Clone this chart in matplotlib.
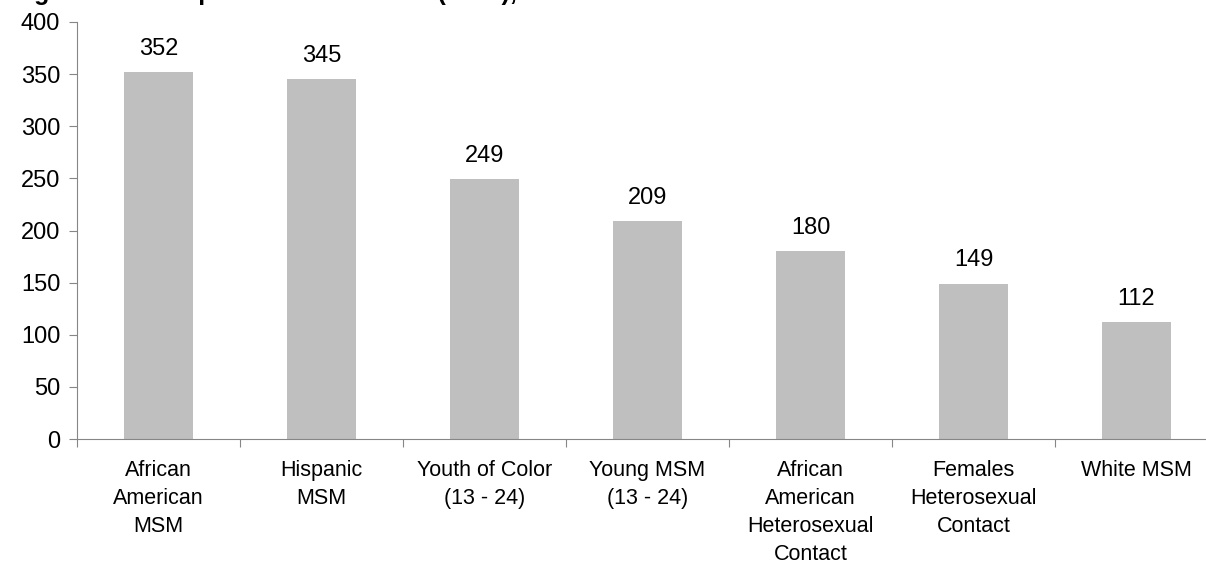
import matplotlib.pyplot as plt
import numpy as np

plt.rcParams['font.family'] = ['Liberation Sans', 'DejaVu Sans']

categories = ['African\nAmerican\nMSM', 'Hispanic\nMSM', 'Youth of Color\n(13 - 24)',
              'Young MSM\n(13 - 24)', 'African\nAmerican\nHeterosexual\nContact',
              'Females\nHeterosexual\nContact', 'White MSM']
values = [352, 345, 249, 209, 180, 149, 112]
yticks = [0, 50, 100, 150, 200, 250, 300, 350, 400]

fig = plt.figure(figsize=(12.06, 5.65), dpi=100)
ax = fig.add_axes([77 / 1206, 126 / 565, 1141 / 1206, 417 / 565])

x = np.arange(len(categories))
ax.bar(x, values, width=0.42, color='#BFBFBF', zorder=2)
for xi, v in zip(x, values):
    ax.annotate(str(v), (xi, v), xytext=(0, 9), textcoords='offset points',
                ha='center', va='bottom', fontsize=17)

ax.set_xlim(-0.5, len(categories) - 0.5)
ax.set_ylim(0, 400)
ax.set_yticks(yticks)
ax.tick_params(axis='y', labelsize=17, length=6, color='#868686', pad=6)

# boundaries get the tick marks, centres get the labels
ax.set_xticks(np.arange(len(categories) + 1) - 0.5)
ax.set_xticklabels([])
ax.set_xticks(x, minor=True)
ax.set_xticklabels(categories, minor=True, fontsize=15.5, linespacing=1.44)
ax.tick_params(axis='x', which='major', length=6, color='#868686')
ax.tick_params(axis='x', which='minor', length=0, pad=15)

for s in ['top', 'right']:
    ax.spines[s].set_visible(False)
for s in ['left', 'bottom']:
    ax.spines[s].set_color('#868686')

# title, mostly cut off by the top edge as in the source
fig.text(12 / 1206, 1.0, 'Figure 3. Rates per 100K Residents (2012),',
         fontsize=18, fontweight='bold', va='baseline', ha='left')

fig.savefig('out.png', dpi=100)
